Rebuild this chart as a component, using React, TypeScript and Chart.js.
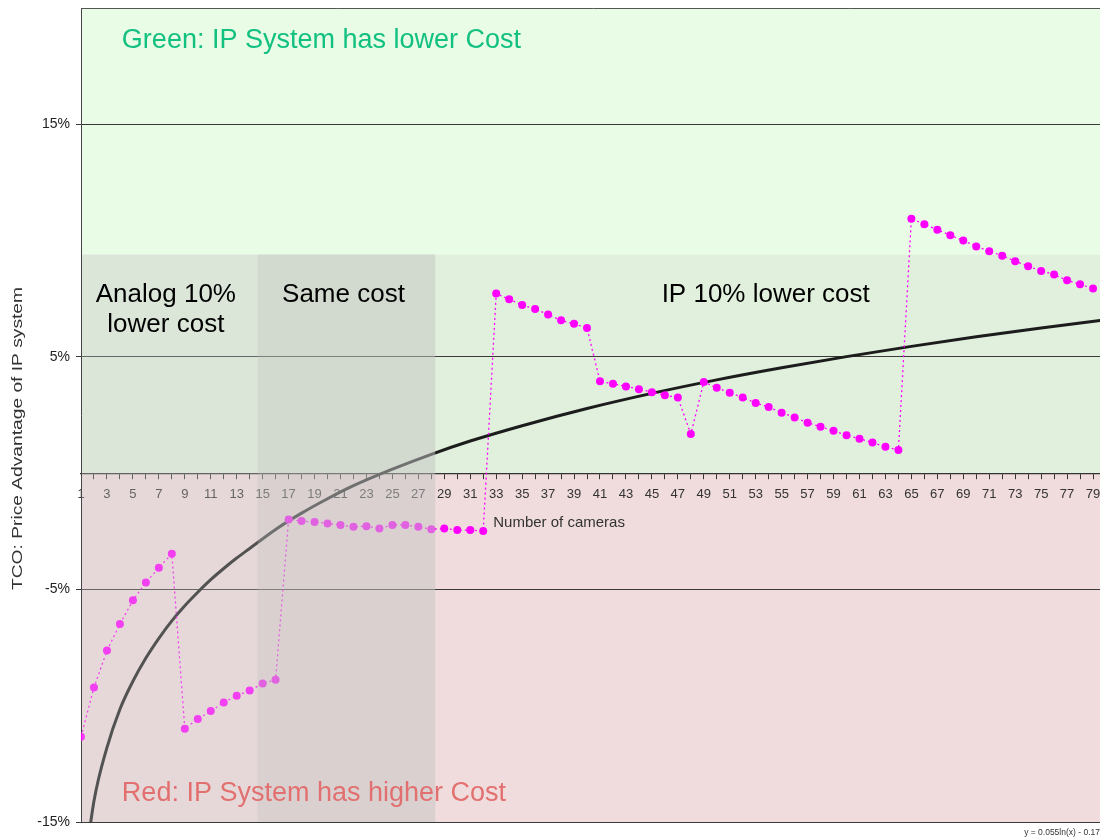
import React, { useEffect, useRef } from 'react';
import { Chart, registerables } from 'chart.js';

Chart.register(...registerables);

// ---------- data ----------
const cameras = [
  1, 2, 3, 4, 5, 6, 7, 8, 9, 10, 11, 12, 13, 14, 15, 16, 17, 18, 19, 20,
  21, 22, 23, 24, 25, 26, 27, 28, 29, 30, 31, 32, 33, 34, 35, 36, 37, 38, 39, 40,
  41, 42, 43, 44, 45, 46, 47, 48, 49, 50, 51, 52, 53, 54, 55, 56, 57, 58, 59, 60,
  61, 62, 63, 64, 65, 66, 67, 68, 69, 70, 71, 72, 73, 74, 75, 76, 77, 78, 79,
];

// TCO price advantage of the IP system, in %
const ipAdvantage = [
  -11.33, -9.22, -7.63, -6.49, -5.47, -4.7, -4.07, -3.47, -10.99, -10.57,
  -10.23, -9.86, -9.57, -9.35, -9.05, -8.88, -1.99, -2.06, -2.1, -2.16,
  -2.23, -2.31, -2.28, -2.38, -2.23, -2.23, -2.31, -2.41, -2.38, -2.45,
  -2.45, -2.49, 7.72, 7.48, 7.23, 7.06, 6.82, 6.57, 6.42, 6.24,
  3.95, 3.84, 3.73, 3.61, 3.48, 3.35, 3.25, 1.68, 3.92, 3.67,
  3.46, 3.25, 3.02, 2.84, 2.6, 2.39, 2.17, 2.0, 1.82, 1.63,
  1.48, 1.32, 1.13, 0.99, 10.94, 10.7, 10.47, 10.23, 10.0, 9.75,
  9.54, 9.35, 9.11, 8.9, 8.69, 8.54, 8.29, 8.12, 7.94,
];

// logarithmic trend line (y = 0.055ln(x) - 0.175)
const trendCameras = [1, 2, 3, 4, 5, 6, 7, 8, 9, 10, 11, 12, 13, 14, 16, 18, 20, 22, 25, 28, 31, 35, 40, 45, 50, 55, 60, 65, 70, 75, 80];
const trendValues = [
  -18.2, -14.1, -11.8, -10.15, -8.95, -7.95, -7.1, -6.35, -5.7, -5.12,
  -4.58, -4.1, -3.65, -3.24, -2.42, -1.72, -1.1, -0.54, 0.17, 0.81,
  1.38, 2.04, 2.78, 3.43, 4.01, 4.53, 5.01, 5.45, 5.86, 6.24, 6.6,
];

const xTickLabels = [
  '1', '3', '5', '7', '9', '11', '13', '15', '17', '19', '21', '23', '25', '27', '29', '31', '33', '35', '37', '39',
  '41', '43', '45', '47', '49', '51', '53', '55', '57', '59', '61', '63', '65', '67', '69', '71', '73', '75', '77', '79',
];
const yTicks = [-15, -5, 5, 15];

// zones (in cameras) and band limits (in %)
const zoneBounds = [1, 14.6, 28.3, 80];
const zoneLabels = ['Analog 10%|lower cost', 'Same cost', 'IP 10% lower cost'];
const bandTop = 9.4;

const X_MIN = 1;
const X_MAX = 80;
const Y_MIN = -15;
const Y_MAX = 20;

const FONT = '"Liberation Sans", Arial, Helvetica, sans-serif';

const decorPlugin = {
  id: 'decor',
  beforeDraw(chart: any) {
    const { ctx, chartArea: a, scales } = chart;
    const y = scales.y;
    const yBand = y.getPixelForValue(bandTop);
    const y0 = y.getPixelForValue(0);
    ctx.save();
    ctx.fillStyle = '#e8fce6';
    ctx.fillRect(a.left, a.top, a.width, yBand - a.top);
    ctx.fillStyle = '#e0f0dc';
    ctx.fillRect(a.left, yBand, a.width, y0 - yBand);
    ctx.fillStyle = '#f0dcdc';
    ctx.fillRect(a.left, y0, a.width, a.bottom - y0);
    ctx.restore();
  },
  afterDatasetsDraw(chart: any) {
    const { ctx, chartArea: a, scales } = chart;
    const { x, y } = scales;
    const yBand = y.getPixelForValue(bandTop);
    const yBot = y.getPixelForValue(Y_MIN);
    const fills = ['rgba(207,207,207,0.3)', 'rgba(196,196,196,0.5)'];
    ctx.save();
    for (let i = 0; i < 2; i++) {
      const x1 = Math.max(x.getPixelForValue(zoneBounds[i]), a.left + 1);
      const x2 = x.getPixelForValue(zoneBounds[i + 1]);
      ctx.fillStyle = fills[i];
      ctx.fillRect(x1, yBand, x2 - x1, yBot - yBand);
    }
    ctx.restore();
  },
  afterDraw(chart: any) {
    const { ctx, chartArea: a, scales } = chart;
    const { x, y } = scales;
    ctx.save();
    // top border
    ctx.strokeStyle = '#555';
    ctx.lineWidth = 1;
    ctx.beginPath();
    ctx.moveTo(a.left, Math.round(a.top) + 0.5);
    ctx.lineTo(a.right, Math.round(a.top) + 0.5);
    ctx.stroke();

    // big region texts
    ctx.textBaseline = 'alphabetic';
    ctx.font = `27px ${FONT}`;
    ctx.textAlign = 'left';
    ctx.fillStyle = 'rgb(18,192,128)';
    ctx.fillText('Green: IP System has lower Cost', x.getPixelForValue(4.15), y.getPixelForValue(18.28));
    ctx.fillStyle = 'rgb(226,112,112)';
    ctx.fillText('Red: IP System has higher Cost', x.getPixelForValue(4.15), y.getPixelForValue(-14.1));

    ctx.font = `26px ${FONT}`;
    ctx.textAlign = 'center';
    ctx.fillStyle = '#000';
    const centers = [7.54, 21.23, 53.77];
    zoneLabels.forEach((label, i) => {
      const lines = label.split('|');
      lines.forEach((ln, j) => {
        ctx.fillText(ln, x.getPixelForValue(centers[i]), y.getPixelForValue(7.34 - j * 1.29));
      });
    });

    // axis title (x)
    ctx.font = `15px ${FONT}`;
    ctx.textAlign = 'left';
    ctx.fillStyle = '#333';
    ctx.fillText('Number of cameras', x.getPixelForValue(32.77), y.getPixelForValue(-2.32));

    // axis title (y), rotated
    ctx.save();
    ctx.translate(22, 590);
    ctx.rotate(-Math.PI / 2);
    ctx.scale(1.28, 1);
    ctx.font = `15px ${FONT}`;
    ctx.fillStyle = '#333';
    ctx.textAlign = 'left';
    ctx.textBaseline = 'alphabetic';
    ctx.fillText('TCO: Price Advantage of IP system', 0, 0);
    ctx.restore();

    // trend equation
    ctx.font = `8.5px ${FONT}`;
    ctx.fillStyle = '#333';
    ctx.textAlign = 'left';
    ctx.fillText('y = 0.055ln(x) - 0.175', x.getPixelForValue(73.69), y.getPixelForValue(-15.56));
    ctx.restore();
  },
};

export default function App() {
  const ref = useRef<HTMLCanvasElement>(null);

  useEffect(() => {
    if (!ref.current) return;
    const chart = new Chart(ref.current, {
      type: 'line',
      data: {
        datasets: [
          {
            label: 'TCO advantage',
            data: cameras.map((c, i) => ({ x: c, y: ipAdvantage[i] })),
            borderColor: '#ff00ff',
            borderWidth: 1.3,
            borderDash: [2, 3],
            pointRadius: 4,
            pointBackgroundColor: '#ff00ff',
            pointBorderWidth: 0,
            tension: 0,
          },
          {
            label: 'Log trend',
            data: trendCameras.map((c, i) => ({ x: c, y: trendValues[i] })),
            borderColor: '#1c1c1c',
            borderWidth: 3,
            pointRadius: 0,
            cubicInterpolationMode: 'monotone',
            clip: 0,
          },
        ],
      },
      options: {
        responsive: false,
        animation: false,
        events: [],
        layout: { padding: { top: 8, bottom: 15, left: 0, right: 2 } },
        plugins: {
          legend: { display: false },
          tooltip: { enabled: false },
        },
        scales: {
          x: {
            type: 'linear',
            min: X_MIN,
            max: X_MAX,
            position: { y: 0 } as any,
            afterBuildTicks: (s: any) => {
              s.ticks = cameras.map((v) => ({ value: v }));
            },
            ticks: {
              autoSkip: false,
              maxRotation: 0,
              minRotation: 0,
              padding: 8,
              color: '#333',
              font: { size: 13, family: FONT },
              callback: (v: any) => (xTickLabels.includes(String(v)) ? String(v) : ''),
            },
            grid: { drawOnChartArea: false, drawTicks: true, tickLength: 5, color: '#333' },
            border: { display: true, color: '#333', width: 1.2 },
          },
          y: {
            type: 'linear',
            min: Y_MIN,
            max: Y_MAX,
            position: 'left',
            afterBuildTicks: (s: any) => {
              s.ticks = yTicks.map((v) => ({ value: v }));
            },
            afterFit: (s: any) => {
              s.width = 81;
            },
            ticks: {
              padding: 6,
              color: '#222',
              font: { size: 14, family: FONT, lineHeight: 0.2 },
              callback: (v: any) => `${v}%`,
            },
            grid: { color: '#3a3a3a', lineWidth: 1, tickLength: 5, drawTicks: true },
            border: { display: true, color: '#444', width: 1 },
          },
        },
      } as any,
      plugins: [decorPlugin],
    });
    return () => chart.destroy();
  }, []);

  return (
    <div
      style={{
        position: 'absolute',
        left: 0,
        top: 0,
        width: 1100,
        height: 837,
        overflow: 'hidden',
        background: '#fff',
      }}
    >
      <canvas ref={ref} width={1110} height={837} style={{ display: 'block' }} />
    </div>
  );
}
